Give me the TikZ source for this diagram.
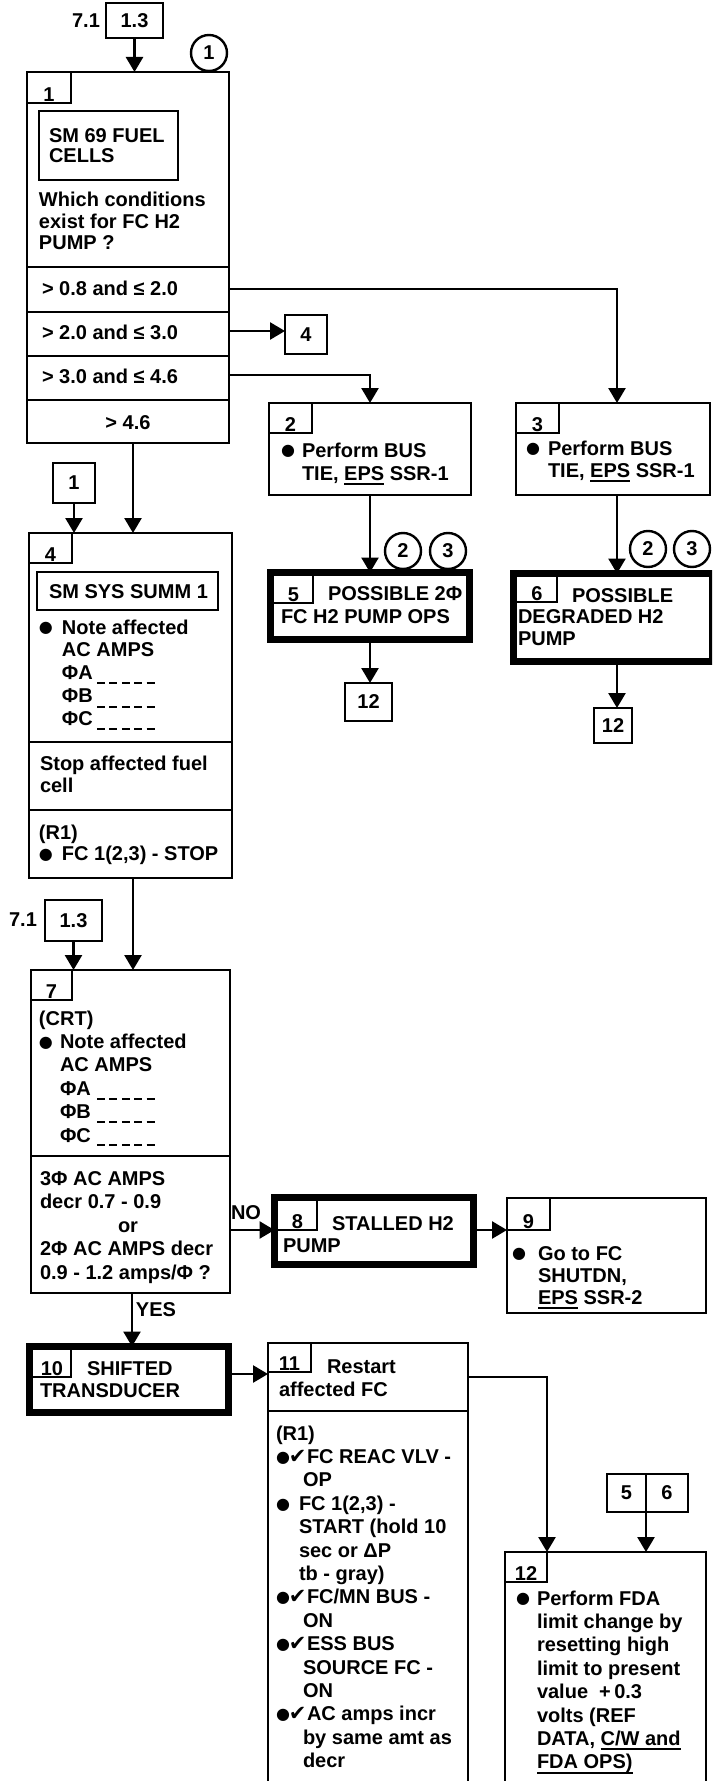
\documentclass[tikz,border=0pt]{standalone}
\usepackage{fontspec}
\setmainfont{Liberation Sans}
\newfontfamily\dejavu{DejaVu Sans}
\usetikzlibrary{arrows.meta}
\newdimen\px \px=0.5pt
\newcommand\tf{\fontsize{10pt}{11.5pt}\selectfont\bfseries}
\newcommand\tstrut{\rule{0pt}{8pt}}
\newcommand\bdot{\raisebox{0.6pt}{\dejavu\fontsize{8pt}{8pt}\selectfont ●}}
\newcommand\bul[1]{\makebox[#1\px][l]{\bdot}}
\newcommand\bck[1]{\makebox[#1\px][l]{\bdot\kern-0.5pt{\dejavu\mdseries\fontsize{10.5pt}{10.5pt}\selectfont ✔}}}
\newcommand\ind[1]{\hspace*{#1\px}}
\newsavebox\ulbox
\newcommand\ul[1]{\sbox\ulbox{#1}\rlap{\rule[-2.4pt]{\wd\ulbox}{0.9pt}}\usebox\ulbox}
\begin{document}
\begin{tikzpicture}[x=0.5pt,y=-0.5pt,
  box/.style={draw, line width=1.25pt, inner sep=0, outer sep=0, anchor=north west, rectangle, font=\tf},
  tbox/.style={draw, line width=3.5pt, inner sep=0, outer sep=0, anchor=north west, rectangle},
  tabline/.style={line width=1pt},
  sepline/.style={line width=1.2pt},
  txt/.style={anchor=north west, inner sep=0, outer sep=0, align=left, font=\fontsize{10pt}{#1}\selectfont\bfseries},
  txt/.default=11.5pt,
  lbl/.style={inner sep=0, outer sep=0, font=\tf},
  num/.style={inner sep=0, outer sep=0, font=\tf, anchor=base},
  circ/.style={draw, circle, line width=1.2pt, minimum size=18pt, inner sep=0, font=\tf},
  arr/.style={line width=1.3pt, -{Triangle[length=7.5pt,width=8.5pt]}},
  blank/.style={line width=1pt, dash pattern=on 4pt off 2.2pt},
]
\useasboundingbox (0,0) rectangle (712,1781);
\fill[white] (0,0) rectangle (712,1781);
\clip (0,0) rectangle (712,1781);

% ---------- top entry ----------
\node[lbl] (l71a) at (86,21) {7.1};
\node[box, minimum width=28.5pt, minimum height=17.5pt] (r13a) at (106,3) {1.3};
\node[circ] (c1) at (209,53) {1};

% ---------- box 1 ----------
\node[box, minimum width=101pt, minimum height=185.5pt] (b1) at (27,72) {};
\draw[tabline] (b1.north west) ++(0,31) -| ++(44,-31);
\node[num] (n1) at (49,101.5) {1};
\node[box, minimum width=69.5pt, minimum height=34.5pt] (sm69) at (39,111) {};
\node[txt=10pt] (t1a) at (49,127) {\tstrut SM 69 FUEL\\CELLS};
\node[txt=10.75pt] (t1b) at (39,191) {\tstrut Which conditions\\exist for FC H2\\PUMP ?};
\draw[sepline] (b1.north west) ++(0,195) -- ++(202,0);
\draw[sepline] (b1.north west) ++(0,240) -- ++(202,0);
\draw[sepline] (b1.north west) ++(0,284) -- ++(202,0);
\draw[sepline] (b1.north west) ++(0,328) -- ++(202,0);
\node[lbl, anchor=base west] (r1) at (42,296) {> 0.8 and ≤ 2.0};
\node[lbl, anchor=base west] (r2) at (42,340) {> 2.0 and ≤ 3.0};
\node[lbl, anchor=base west] (r3) at (42,384) {> 3.0 and ≤ 4.6};
\node[lbl, anchor=base] (r4) at (128,429) {> 4.6};

% ---------- ref box 4 ----------
\node[box, minimum width=21pt, minimum height=19.5pt] (b4r) at (285,315) {4};

% ---------- box 2 ----------
\node[box, minimum width=101pt, minimum height=46pt] (b2) at (269,403) {};
\draw[tabline] (b2.north west) ++(0,30) -| ++(43,-30);
\node[num] (n2) at (290.5,431.5) {2};
\node[txt=11.5pt] (t2) at (281,441) {\tstrut\bul{21}Perform BUS\\\ind{21}TIE, \ul{EPS} SSR-1};

% ---------- box 3 ----------
\node[box, minimum width=97pt, minimum height=46pt] (b3) at (516,403) {};
\draw[tabline] (b3.north west) ++(0,30) -| ++(43,-30);
\node[num] (n3) at (537.5,431.5) {3};
\node[txt=11pt] (t3) at (526,439) {\tstrut\bul{22}Perform BUS\\\ind{22}TIE, \ul{EPS} SSR-1};

% ---------- circles ----------
\node[circ] (c2a) at (403,551) {2};
\node[circ] (c3a) at (448,551) {3};
\node[circ] (c2b) at (648,549) {2};
\node[circ] (c3b) at (692,549) {3};

% ---------- box 5 ----------
\node[tbox, minimum width=99.5pt, minimum height=33.5pt] (b5) at (270.5,572.5) {};
\draw[tabline] (b5.north west) ++(0,30.5) -| ++(42.5,-30.5);
\node[num] (n5n) at (293.5,601.5) {5};
\node[txt=11.5pt] (t5) at (281,584) {\tstrut\ind{47}POSSIBLE 2Φ\\FC H2 PUMP OPS};

% ---------- box 6 ----------
\node[tbox, minimum width=99.5pt, minimum height=44pt] (b6) at (513.5,573.5) {};
\draw[tabline] (b6.north west) ++(0,28.5) -| ++(43.5,-28.5);
\node[num] (n6n) at (537,600.5) {6};
\node[txt=10.75pt] (t6) at (518,586) {\tstrut\ind{54}POSSIBLE\\DEGRADED H2\\PUMP};

% ---------- ref boxes 12 ----------
\node[box, minimum width=23.5pt, minimum height=19pt] (b12a) at (345,683) {12};
\node[box, minimum width=19pt, minimum height=17.5pt] (b12b) at (594,708) {12};

% ---------- ref box 1 ----------
\node[box, minimum width=21pt, minimum height=20pt] (sb1) at (53,463) {1};

% ---------- box 4 ----------
\node[box, minimum width=101.5pt, minimum height=172.5pt] (b4) at (29,533) {};
\draw[tabline] (b4.north west) ++(0,30) -| ++(43,-30);
\node[num] (n4) at (50.5,561.5) {4};
\node[box, minimum width=90.5pt, minimum height=19pt] (ss1) at (37,572) {};
\node[txt] (t4a) at (49,582) {\tstrut SM SYS SUMM 1};
\node[txt=11.375pt] (t4b) at (39,618) {\tstrut\bul{23}Note affected\\\ind{23}AC AMPS\\\ind{23}ΦA\\\ind{23}ΦB\\\ind{23}ΦC};
\draw[blank] (97,683) -- (158,683);
\draw[blank] (97,707) -- (158,707);
\draw[blank] (97,729) -- (158,729);
\draw[sepline] (b4.north west) ++(0,209) -- ++(203,0);
\node[txt=11pt] (t4c) at (40,754) {\tstrut Stop affected fuel\\cell};
\draw[sepline] (b4.north west) ++(0,277) -- ++(203,0);
\node[txt=10.75pt] (t4d) at (39,823) {\tstrut (R1)\\\bul{23}FC 1(2,3) - STOP};

% ---------- second entry ----------
\node[lbl] (l71b) at (23,920) {7.1};
\node[box, minimum width=28.5pt, minimum height=20.5pt] (r13b) at (45,900) {1.3};

% ---------- box 7 ----------
\node[box, minimum width=99.5pt, minimum height=161.5pt] (b7) at (31,970) {};
\draw[tabline] (b7.north west) ++(0,30) -| ++(41,-30);
\node[num] (n7) at (51.5,998.5) {7};
\node[txt=11.7pt] (t7a) at (39,1009) {\tstrut (CRT)\\\bul{21}Note affected\\\ind{21}AC AMPS\\\ind{21}ΦA\\\ind{21}ΦB\\\ind{21}ΦC};
\draw[blank] (97,1098.5) -- (158,1098.5);
\draw[blank] (97,1121.5) -- (158,1121.5);
\draw[blank] (97,1145) -- (158,1145);
\draw[sepline] (b7.north west) ++(0,186) -- ++(199,0);
\node[txt=11.75pt] (t7b) at (40,1169) {\tstrut 3Φ AC AMPS\\decr 0.7 - 0.9\\\ind{78}or\\2Φ AC AMPS decr\\0.9 - 1.2 amps/Φ ?};

% ---------- box 8 ----------
\node[tbox, minimum width=99.5pt, minimum height=33.5pt] (b8) at (274.5,1197.5) {};
\draw[tabline] (b8.north west) ++(0,32.5) -| ++(42.5,-32.5);
\node[num] (n8) at (297.5,1228.5) {8};
\node[txt=11pt] (t8) at (283,1214) {\tstrut\ind{49}STALLED H2\\PUMP};

% ---------- box 9 ----------
\node[box, minimum width=99.5pt, minimum height=57.5pt] (b9) at (507,1198) {};
\draw[tabline] (b9.north west) ++(0,32) -| ++(43,-32);
\node[num] (n9) at (528.5,1228.5) {9};
\node[txt=11pt] (t9) at (512,1244) {\tstrut\bul{26}Go to FC\\\ind{26}SHUTDN,\\\ind{26}\ul{EPS} SSR-2};

% ---------- box 10 ----------
\node[tbox, minimum width=99.5pt, minimum height=33pt] (b10) at (29.5,1346.5) {};
\draw[tabline] (b10.north west) ++(0,30.5) -| ++(41.5,-30.5);
\node[num] (n10) at (52,1375.5) {10};
\node[txt=11pt] (t10) at (40,1359) {\tstrut\ind{47}SHIFTED\\TRANSDUCER};

% ---------- box 11 ----------
\node[box, minimum width=100pt, minimum height=230pt] (b11) at (268,1343) {};
\draw[tabline] (b11.north west) ++(0,29) -| ++(43,-29);
\node[num] (n11) at (289.5,1370.5) {11};
\node[txt=11.5pt] (t11a) at (279,1357) {\tstrut\ind{48}Restart\\affected FC};
\draw[sepline] (b11.north west) ++(0,68) -- ++(200,0);
\node[txt=11.7pt] (t11b) at (276,1424) {\tstrut (R1)\\\bck{31}FC REAC VLV -\\\ind{27}OP\\\bul{23}FC 1(2,3) -\\\ind{23}START (hold 10\\\ind{23}sec or ΔP\\\ind{23}tb - gray)\\\bck{31}FC/MN BUS -\\\ind{27}ON\\\bck{31}ESS BUS\\\ind{27}SOURCE FC -\\\ind{27}ON\\\bck{31}AC amps incr\\\ind{27}by same amt as\\\ind{27}decr};

% ---------- ref boxes 5 | 6 ----------
\node[box, minimum width=19.5pt, minimum height=19pt] (n5) at (607,1474) {5};
\node[box, minimum width=21pt, minimum height=19pt] (n6) at (646,1474) {6};

% ---------- box 12 ----------
\node[box, minimum width=100.5pt, minimum height=125pt] (b12c) at (505,1552) {};
\draw[tabline] (b12c.north west) ++(0,30) -| ++(42,-30);
\node[num] (n12) at (526,1580.5) {12};
\node[txt=11.7pt] (t12) at (516,1589) {\tstrut\bul{21}Perform FDA\\\ind{21}limit change by\\\ind{21}resetting high\\\ind{21}limit to present\\\ind{21}value \ +\,0.3\\\ind{21}volts (REF\\\ind{21}DATA, \ul{C/W and}\\\ind{21}\ul{FDA OPS)}};

% ---------- labels ----------
\node[lbl] (no) at (246,1213) {NO};
\node[lbl] (yes) at (156,1310) {YES};

% ---------- connectors ----------
\coordinate (xa) at (133,0);
\coordinate (xc) at (132,0);
\coordinate (k1) at (617,289);
\coordinate (k3) at (370,375);
\coordinate (o1) at (229,289);
\coordinate (o2) at (229,331);
\coordinate (o3) at (229,375);
\coordinate (y7) at (0,1230);
\coordinate (y10) at (0,1374);
\coordinate (y11) at (0,1377);
\coordinate (xd) at (547,0);

\draw[arr] (r13a.south) -- (r13a.south |- b1.north);
\draw[arr] (o1) -- (k1) -- (k1 |- b3.north);
\draw[arr] (o2) -- (o2 -| b4r.west);
\draw[arr] (o3) -- (k3) -- (k3 |- b2.north);
\draw[arr] (k3 |- b2.south) -- (k3 |- b5.north);
\draw[arr] (k3 |- b5.south) -- (k3 |- b12a.north);
\draw[arr] (k1 |- b3.south) -- (k1 |- b6.north);
\draw[arr] (k1 |- b6.south) -- (k1 |- b12b.north);
\draw[arr] (b1.south -| xa) -- (b4.north -| xa);
\draw[arr] (sb1.south) -- (sb1.south |- b4.north);
\draw[arr] (b4.south -| xa) -- (b7.north -| xa);
\draw[arr] (r13b.south) -- (r13b.south |- b7.north);
\draw[arr] (b7.east |- y7) -- (b8.west |- y7);
\draw[arr] (b8.east |- y7) -- (b9.west |- y7);
\draw[arr] (b7.south -| xc) -- (b10.north -| xc);
\draw[arr] (b10.east |- y10) -- (b11.west |- y10);
\draw[arr] (b11.east |- y11) -| (b12c.north -| xd);
\draw[arr] (n5.south east) -- (n5.south east |- b12c.north);
\end{tikzpicture}
\end{document}
